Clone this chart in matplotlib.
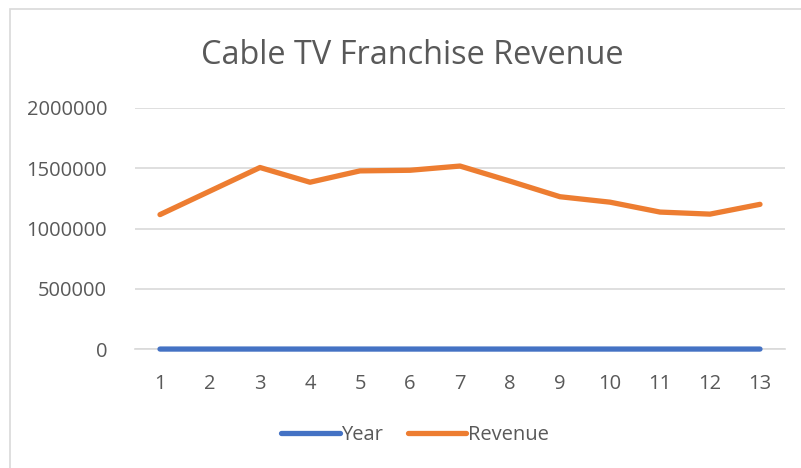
import matplotlib
matplotlib.use("Agg")
import matplotlib.pyplot as plt
from matplotlib.patches import Rectangle

categories = [1, 2, 3, 4, 5, 6, 7, 8, 9, 10, 11, 12, 13]
year = [2007, 2008, 2009, 2010, 2011, 2012, 2013, 2014, 2015, 2016, 2017, 2018, 2019]
revenue = [1115000, 1310000, 1505000, 1383000, 1477000, 1482000, 1517000, 1392000,
           1263000, 1218000, 1136000, 1119000, 1200000]
yticks = [0, 500000, 1000000, 1500000, 2000000]

plt.rcParams['font.family'] = ['Open Sans', 'DejaVu Sans']
TXT = '#595959'

fig = plt.figure(figsize=(8.01, 4.68), dpi=100)
fig.patches.append(Rectangle((10/801, -0.1), 1.2, 1 - 9/468 + 0.1, transform=fig.transFigure,
                             fill=False, edgecolor='#D9D9D9', lw=1.2))
ax = fig.add_axes([135/801, 1 - 349.3/468, 650/801, (349.3 - 107.7)/468])

ax.plot(categories, year, color='#4472C4', lw=3.8, solid_capstyle='round', label='Year',
        zorder=3, clip_on=False)
ax.plot(categories, revenue, color='#ED7D31', lw=3.8, solid_capstyle='round', label='Revenue',
        zorder=3, clip_on=False)

ax.set_xlim(0.5, 13.5)
ax.set_ylim(0, 2000000)
ax.set_yticks(yticks)
ax.set_yticklabels([str(v) for v in yticks])
ax.set_xticks(categories)
ax.set_xticklabels([str(c) for c in categories])
ax.grid(axis='y', color='#D9D9D9', lw=1.2, zorder=0)
for s in ['top', 'right', 'left']:
    ax.spines[s].set_visible(False)
ax.spines['bottom'].set_color('#D9D9D9')
ax.spines['bottom'].set_linewidth(1.2)
ax.tick_params(axis='both', length=0, labelsize=14.5, labelcolor=TXT)
ax.tick_params(axis='y', pad=20)
ax.tick_params(axis='x', pad=18)

fig.text(412/801, 1 - 55/468, 'Cable TV Franchise Revenue', ha='center', va='center',
         fontsize=23.4, color=TXT)

leg = fig.legend(loc='center', bbox_to_anchor=(415/801, 1 - 435/468), ncol=2, frameon=False,
                 fontsize=14.5, handlelength=2.9, handletextpad=0.1, columnspacing=1.2)
for t in leg.get_texts():
    t.set_color(TXT)

fig.savefig('out.png', dpi=100)
